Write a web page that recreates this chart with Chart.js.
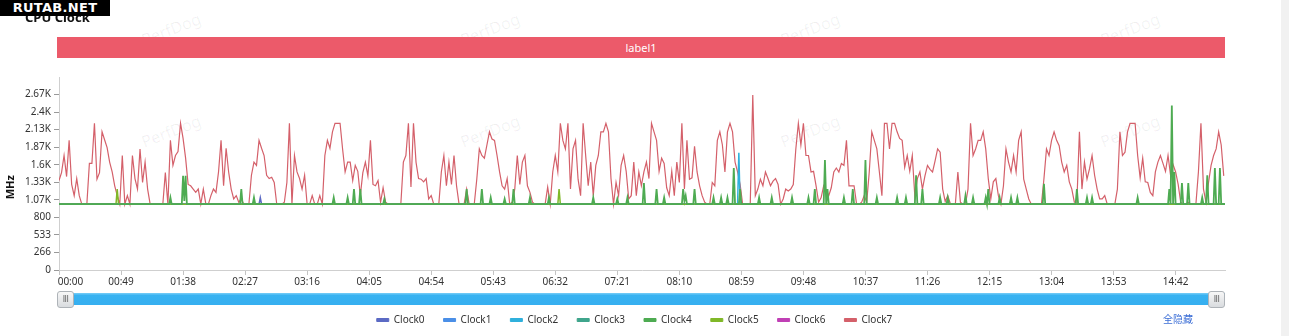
<!DOCTYPE html>
<html>
<head>
<meta charset="utf-8">
<title>CPU Clock</title>
<script src="https://cdn.jsdelivr.net/npm/chart.js@4.4.0/dist/chart.umd.min.js"></script>
<style>
  body { margin: 0; background: #fff; font-family: "Noto Sans", sans-serif; }
  #wrap { position: relative; width: 1289px; height: 336px; overflow: hidden; background: #fff; }
  #wrap canvas { position: absolute; left: 0; top: 0; }
  .wm { position: absolute; color: rgba(0, 0, 0, 0.06); font-size: 16px; transform: rotate(-21deg); white-space: nowrap; }
  #title { position: absolute; left: 25px; top: 8px; font-size: 13px; font-weight: bold; color: #111; }
  #band { position: absolute; left: 57px; top: 37px; width: 1168px; height: 21px; line-height: 21px;
          background: #ec5a6a; color: #fff; font-size: 11px; text-align: center; }
  #slider { position: absolute; left: 59px; top: 293px; width: 1166px; height: 12px;
            background: linear-gradient(#6cc8f6 0, #6cc8f6 1px, #38b2f1 2px, #36aff0 100%); }
  .handle { position: absolute; top: -2px; width: 15px; height: 15px; border: 1px solid #aeb3b8; border-radius: 3px;
            background: linear-gradient(#f7f7f7, #d9dcdf); color: #666; font-size: 8px; line-height: 15px;
            text-align: center; font-family: "DejaVu Sans", sans-serif; letter-spacing: -0.5px; }
  #hideAll { position: absolute; left: 1163px; top: 311px; font-size: 10px; color: #3d6fd6;
             font-family: "Noto Sans CJK SC", sans-serif; }
  #edge { position: absolute; right: 0; top: 0; width: 8px; height: 336px; background: #f1f1f1; }
  #stamp { position: absolute; left: 0; top: 0; width: 110px; height: 16px; background: #000; color: #fff;
           font: bold 13px "DejaVu Sans", sans-serif; line-height: 16px; text-align: center; letter-spacing: 0.3px; }
</style>
</head>
<body>
<div id="wrap">
  <div class="wm" style="left:140px;top:18px">PerfDog</div>
  <div class="wm" style="left:459px;top:18px">PerfDog</div>
  <div class="wm" style="left:779px;top:18px">PerfDog</div>
  <div class="wm" style="left:1099px;top:18px">PerfDog</div>
  <div class="wm" style="left:140px;top:120px">PerfDog</div>
  <div class="wm" style="left:459px;top:120px">PerfDog</div>
  <div class="wm" style="left:779px;top:120px">PerfDog</div>
  <div class="wm" style="left:1099px;top:120px">PerfDog</div>
  <canvas id="cpuChart" width="1289" height="336"></canvas>
  <div id="title">CPU Clock</div>
  <div id="band">label1</div>
  <div id="slider">
    <div class="handle" style="left:-2px">III</div>
    <div class="handle" style="right:0px">III</div>
  </div>
  <div id="hideAll">全隐藏</div>
  <div id="edge"></div>
  <div id="stamp">RUTAB.NET</div>
</div>
<script>
// x axis: seconds since start, labelled mm:ss every 49 s
const xTickLabels = ['00:00', '00:49', '01:38', '02:27', '03:16', '04:05', '04:54', '05:43', '06:32', '07:21',
  '08:10', '08:59', '09:48', '10:37', '11:26', '12:15', '13:04', '13:53', '14:42'];
// y axis: MHz, 11 steps of 266.67
const yTickLabels = ['0', '266', '533', '800', '1.07K', '1.33K', '1.6K', '1.87K', '2.13K', '2.4K', '2.67K', ''];

const clockNames = ['Clock0', 'Clock1', 'Clock2', 'Clock3', 'Clock4', 'Clock5', 'Clock6', 'Clock7'];
const clockColors = ['#5b6ac4', '#4a8fe7', '#2fb0dc', '#3fa58c', '#4eab52', '#80b828', '#c03fb5', '#d4606a'];

// Clock7 sampled every 2 s (MHz)
const SAMPLE_SEC = 2;
const clock7 = [
  1360, 1480, 1740, 1420, 1970, 1300, 1130, 1390, 1130, 1000,
  1000, 1000, 1620, 1620, 2230, 1380, 1480, 2100, 1980, 1860,
  1640, 1490, 1280, 1130, 1000, 1740, 1000, 1130, 1000, 1740,
  1390, 1230, 1840, 1330, 1640, 1230, 1000, 1000, 1000, 1000,
  1000, 1000, 1480, 1000, 1970, 1590, 1740, 1800, 2230, 2000,
  1700, 1300, 1280, 1230, 1180, 1230, 1000, 1230, 1000, 1000,
  1130, 1230, 1180, 1490, 1970, 1280, 1850, 1490, 1230, 1080,
  1130, 1030, 1080, 1000, 1000, 1000, 1440, 1640, 1590, 1970,
  1850, 1740, 1440, 1390, 1410, 1330, 1000, 1000, 1000, 1030,
  1330, 2230, 1000, 1740, 1490, 1390, 1230, 1440, 1000, 1000,
  1130, 1000, 1000, 1130, 1000, 1740, 1970, 1850, 2100, 2230,
  2230, 2230, 1840, 1490, 1640,
  1640, 1360, 1590, 1500, 1130, 1480, 1640, 1430, 1970, 1300,
  1280, 1360, 1030, 1250, 1030, 1000, 1000, 1000, 1000, 1000,
  1000, 1640, 1740, 2230, 1260, 2230, 1640, 1390, 1380, 1340,
  1390, 1080, 1130, 1000, 1000, 1000, 1490, 1740, 1280, 1640,
  1300, 1740, 1280, 1000, 1000, 1000, 1230, 1000, 1000, 1000,
  1380, 1840, 1740, 1700, 1900, 2100, 1990, 1970, 1740, 1490,
  1280, 1230, 1390, 1000, 1030, 1230, 1740, 1300, 1640, 1740,
  1280, 1180, 1030, 1000, 1000, 1000, 1000, 1000, 1260, 1000,
  1490, 1740, 1490, 2230, 1970, 1840, 2230, 1230, 1840, 1970,
  1380, 1130, 2230, 1740, 1280, 1640, 1130, 1590, 1740, 2100,
  2100, 2230, 2100, 1390, 1000, 1330, 1130, 1590, 1740, 1500,
  1080, 1130, 1640, 1130, 1490,
  1280, 1490, 1640, 1390, 2230, 2100, 1970, 1500, 1700, 1620,
  1250, 1130, 1500, 1130, 1640, 1330, 2230, 1230, 1970, 1380,
  1400, 1880, 1490, 1280, 1130, 1030, 1000, 1000, 1330, 1280,
  1970, 2100, 1900, 1490, 2100, 2230, 2100, 1640, 1490, 1300,
  1000, 1000, 1000, 1000, 2660, 1130, 1230, 1380, 1280, 1490,
  1390, 1280, 1350, 1390, 1300, 1000, 1080, 1230, 1200, 1230,
  1300, 1840, 2230, 1900, 2230, 1740, 1740, 1490, 1500, 1280,
  1030, 1100, 1280, 1200, 1130, 1250, 1490, 1550, 1490, 1620,
  1590, 1970, 1280, 1280, 1280, 1000, 1000, 1030, 1130, 1030,
  1490, 2100, 1970, 1840, 1490, 1130, 2230, 2230, 1840, 2230,
  2230, 2100, 2000, 1970, 1560, 1740, 1500, 1740, 1120, 1390,
  1490, 1230, 1430, 1590, 1530,
  1490, 1660, 1840, 1790, 1230, 1040, 1130, 1010, 1000, 1000,
  1490, 1030, 1000, 1000, 1230, 2230, 1740, 1840, 1970, 1970,
  2100, 1840, 1390, 1080, 1340, 1390, 1130, 1000, 1280, 1840,
  1640, 1490, 1740, 1490, 1970, 2100, 1380, 1230, 1080, 1000,
  1000, 1000, 1000, 1000, 1390, 1840, 1740, 1970, 2100, 1970,
  1890, 1640, 1490, 1590, 1340, 1230, 1030, 1030, 2100, 1230,
  1640, 1380, 1540, 1740, 1440, 1230, 1080, 1080, 1130, 1000,
  1000, 1000, 1000, 1230, 2100, 1740, 1790, 2100, 2230, 2230,
  2230, 1740, 1400, 1700, 1340, 1330, 1180, 1130, 1490, 1640,
  1740, 1620, 1500, 1740, 1440, 1600, 1490, 1300, 1030, 1000,
  1000, 1030, 1000, 1000, 1000, 1490, 2230, 1230, 1030, 1330,
  1590, 1740, 1840, 2100, 1900, 1430
];

// the other clusters idle at 1000 MHz; [second, MHz] where they move
const clock4 = [
  [0, 1000], [87, 1000], [88, 1100], [89, 1000],
  [97, 1000], [98, 1430], [99, 1050], [100, 1430], [101, 1000],
  [143, 1000], [144, 1230], [145, 1000], [153, 1000], [154, 1100], [155, 1000],
  [216, 1000], [217, 1100], [218, 1000], [227, 1000], [228, 1100], [229, 1000],
  [232, 1000], [233, 1230], [234, 1000], [237, 1000], [238, 1230], [239, 1000],
  [256, 1000], [257, 1080], [258, 1000], [321, 1000], [322, 1230], [323, 1000],
  [333, 1000], [334, 1230], [335, 1000], [340, 1000], [341, 1100], [342, 1000],
  [351, 1000], [352, 1080], [353, 1000], [358, 1000], [359, 1230], [360, 1000],
  [371, 1000], [372, 1100], [373, 1000], [386, 1000], [387, 1100], [388, 1000],
  [421, 1000], [422, 1100], [423, 1000], [440, 1000], [441, 1080], [442, 1000],
  [448, 1000], [449, 1100], [450, 1000], [461, 1000], [462, 1320], [463, 1000],
  [471, 1000], [472, 1230], [473, 1000], [477, 1000], [478, 1100], [479, 1000],
  [492, 1000], [493, 1230], [494, 1050], [495, 1130], [496, 1000],
  [501, 1000], [502, 1230], [503, 1000], [516, 1000], [517, 1100], [518, 1000],
  [522, 1000], [523, 1100], [524, 1000], [527, 1000], [528, 1100], [529, 1000],
  [532, 1000], [533, 1550], [534, 1000], [537, 1000], [538, 1230], [539, 1000],
  [552, 1000], [553, 1100], [554, 1000], [562, 1000], [563, 1100], [564, 1000],
  [578, 1000], [579, 1100], [580, 1000], [591, 1000], [592, 1100], [593, 1000],
  [596, 1000], [597, 1230], [598, 1000],
  [604, 1000], [605, 1670], [606, 1000], [607, 1230], [608, 1000],
  [619, 1000], [620, 1100], [621, 1000], [626, 1000], [627, 1230], [628, 1000],
  [636, 1000], [637, 1670], [638, 1000], [645, 1000], [646, 1100], [647, 1000],
  [661, 1000], [662, 1100], [663, 1000], [668, 1000], [669, 1100], [670, 1000],
  [676, 1000], [677, 1440], [678, 1000], [681, 1000], [682, 1230], [683, 1000],
  [695, 1000], [696, 1100], [697, 1000], [701, 1000], [702, 1100], [703, 1000],
  [715, 1000], [716, 1130], [717, 1000], [721, 1000], [722, 1100], [723, 1000],
  [731, 1000], [732, 1100], [733, 1000], [734, 1230], [735, 1000],
  [742, 1000], [743, 1100], [744, 1000], [751, 1000], [752, 1100], [753, 1000],
  [756, 1000], [757, 1100], [758, 1000], [777, 1000], [778, 1310], [779, 1000],
  [803, 1000], [804, 1230], [805, 1000], [811, 1000], [812, 1100], [813, 1000],
  [815, 1000], [816, 1100], [817, 1000], [851, 1000], [852, 1100], [853, 1000],
  [876, 1000], [877, 1230], [878, 1000], [879, 2500], [880, 1000], [881, 1490], [882, 1000],
  [886, 1000], [887, 1320], [888, 1000], [891, 1000], [892, 1320], [893, 1000],
  [902, 1000], [903, 1100], [904, 1000], [906, 1000], [907, 1440], [908, 1000],
  [912, 1000], [913, 1550], [914, 1000], [916, 1000], [917, 1550], [918, 1000], [921, 1000]
];
const clock5 = [[0, 1000], [45, 1000], [46, 1230], [47, 1000], [394, 1000], [395, 1230], [396, 1000], [921, 1000]];
const clock0 = [[0, 1000], [158, 1000], [159, 1100], [160, 1000], [921, 1000]];
const clock1 = [[0, 1000], [921, 1000]];
const clock2 = [[0, 1000], [536, 1000], [537, 1780], [538, 1000], [921, 1000]];
const clock3 = [[0, 1000], [921, 1000]];
const clock6 = [[0, 1000], [921, 1000]];

const X_MAX = 921;
const Y_STEP = 800 / 3;
const Y_MAX = 11 * Y_STEP;

Chart.defaults.font.family = '"Noto Sans", sans-serif';

const toXY = list => list.map(([x, y]) => ({ x, y }));
const sampled = clock7.map((y, i) => ({ x: i * SAMPLE_SEC, y }));

// lower order is painted last, so the green cluster sits on top of the rest
const seriesData = [toXY(clock0), toXY(clock1), toXY(clock2), toXY(clock3), toXY(clock4), toXY(clock5), toXY(clock6), sampled];
const drawOrder = [2, 2, 2, 2, 0, 1, 3, 4];
const lineWidths = [1.5, 1.5, 1.5, 1.5, 1.8, 1.5, 1.5, 1.2];

const datasets = clockNames.map((name, i) => ({
  label: name,
  data: seriesData[i],
  borderColor: clockColors[i],
  backgroundColor: clockColors[i],
  borderWidth: lineWidths[i],
  pointRadius: 0,
  tension: 0,
  order: drawOrder[i]
}));

new Chart(document.getElementById('cpuChart'), {
  type: 'line',
  data: { datasets },
  options: {
    responsive: false,
    animation: false,
    events: [],
    layout: { padding: { left: 0, right: 20, top: 77, bottom: 1 } },
    scales: {
      x: {
        type: 'linear',
        min: 0,
        max: X_MAX,
        border: { color: '#cfcfcf' },
        grid: { drawOnChartArea: false, tickLength: 5, tickColor: '#c4c4c4' },
        ticks: {
          stepSize: 49,
          includeBounds: false,
          autoSkip: false,
          maxRotation: 0,
          padding: 1,
          color: '#333',
          font: { size: 10 },
          // first label sits to the right of its tick
          callback: (v, i) => (i === 0 ? '\u2007\u2007\u2007\u2007' : '') + xTickLabels[i]
        },
        afterFit: s => { s.height = 26; }
      },
      y: {
        min: 0,
        max: Y_MAX,
        border: { color: '#cfcfcf' },
        grid: {
          drawOnChartArea: false,
          tickLength: 5,
          tickColor: ctx => (yTickLabels[ctx.index] ? '#999' : 'rgba(0,0,0,0)')
        },
        ticks: {
          stepSize: Y_STEP,
          padding: 3,
          color: '#333',
          font: { size: 10 },
          callback: (v, i) => yTickLabels[i]
        },
        title: {
          display: true,
          text: 'MHz\u2003\u2003\u2002',
          color: '#111',
          font: { size: 11, weight: 'bold' },
          padding: { top: 4, bottom: 0 }
        },
        afterFit: s => { s.width = 59; }
      },
      // empty right-hand gutter
      yRight: {
        position: 'right',
        grid: { display: false },
        border: { display: false },
        ticks: { display: false },
        afterFit: s => { s.width = 44; }
      }
    },
    plugins: {
      tooltip: { enabled: false },
      legend: {
        position: 'bottom',
        labels: {
          boxWidth: 12,
          boxHeight: 3,
          padding: 19,
          color: '#333',
          font: { size: 10 },
          sort: (a, b) => a.datasetIndex - b.datasetIndex,
          generateLabels: chart => Chart.defaults.plugins.legend.labels.generateLabels(chart)
            .map(item => Object.assign(item, { lineWidth: 1 }))
        }
      }
    }
  }
});
</script>
</body>
</html>
